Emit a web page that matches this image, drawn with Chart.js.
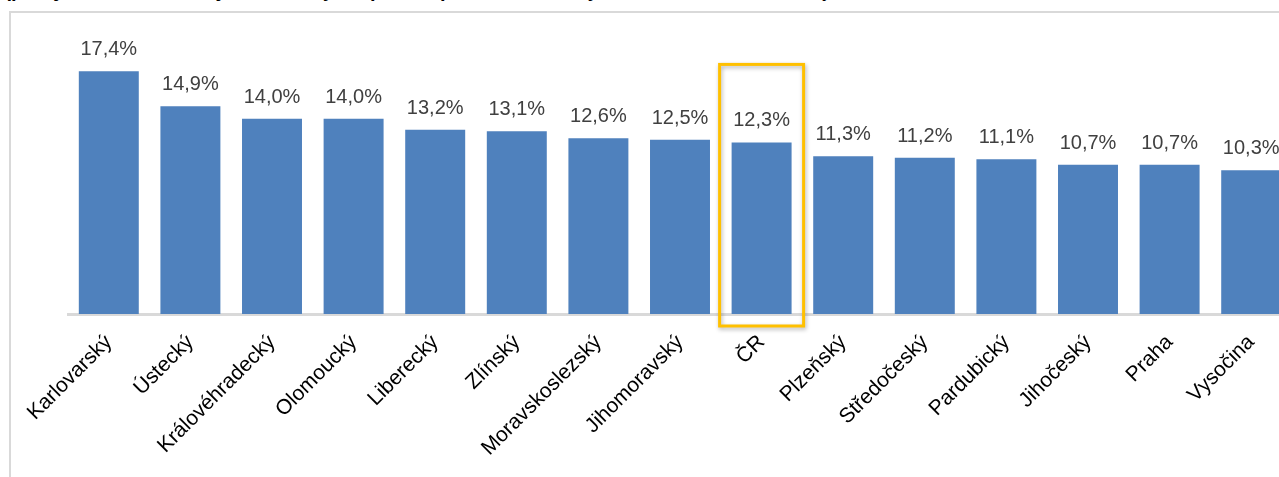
<!DOCTYPE html>
<html lang="cs">
<head>
<meta charset="utf-8">
<title>Kraje</title>
<script src="https://cdn.jsdelivr.net/npm/chart.js@4.4.1/dist/chart.umd.min.js"></script>
<style>
  html, body { margin: 0; padding: 0; background: #fff; overflow: hidden; }
  body { width: 1279px; height: 477px; position: relative; }
  #frame {
    position: absolute; left: 9px; top: 11px; width: 1400px; height: 600px;
    border-left: 2px solid #d9d9d9; border-top: 2px solid #d9d9d9;
  }
  #title {
    position: absolute; left: 6px; top: -20px; white-space: nowrap;
    font: italic bold 20px "Liberation Sans", Arial, sans-serif; line-height: 20px; color: #000;
  }
  #wrap { position: absolute; left: 0; top: 0; width: 1300px; height: 477px; }
</style>
</head>
<body>
<div id="frame"></div>
<div id="title">(počty osob na 100 obyvatel v krajích, podíl v procentech, kraje a ČR celkem, rok 2023)</div>
<div id="wrap"><canvas id="graph"></canvas></div>
<script>
// Kraje seřazené podle hodnoty
const regions = ["Karlovarský", "Ústecký", "Královéhradecký", "Olomoucký", "Liberecký", "Zlínský",
    "Moravskoslezský", "Jihomoravský", "ČR", "Plzeňský", "Středočeský", "Pardubický",
    "Jihočeský", "Praha", "Vysočina"];
const values = [17.4, 14.9, 14.0, 14.0, 13.2, 13.1, 12.6, 12.5, 12.3, 11.3, 11.2, 11.1, 10.7, 10.7, 10.3];
const highlightLabel = "ČR";

const fmt = (v) => v.toFixed(1).replace(".", ",") + "%";

// Popisky hodnot nad sloupci
const valueLabels = {
    id: "valueLabels",
    afterDatasetsDraw(chart) {
        const ctx = chart.ctx;
        const meta = chart.getDatasetMeta(0);
        ctx.save();
        ctx.font = '20px "Liberation Sans", Arial, sans-serif';
        ctx.fillStyle = "#404040";
        ctx.textAlign = "center";
        ctx.textBaseline = "alphabetic";
        meta.data.forEach((bar, i) => {
            ctx.fillText(fmt(values[i]), bar.x, bar.y - 16);
        });
        ctx.restore();
    }
};

// Žlutý rámeček kolem ČR
const highlightBox = {
    id: "highlightBox",
    afterDraw(chart) {
        const i = regions.indexOf(highlightLabel);
        if (i < 0) return;
        const x = chart.scales.x;
        const y = chart.scales.y;
        const cx = x.getPixelForValue(i);
        const half = 42;
        const top = y.getPixelForValue(values[i]) - 78;
        const bottom = y.getPixelForValue(0) + 12;
        const ctx = chart.ctx;
        ctx.save();
        ctx.shadowColor = "rgba(0,0,0,0.3)";
        ctx.shadowBlur = 4;
        ctx.shadowOffsetX = 1;
        ctx.shadowOffsetY = 2;
        ctx.strokeStyle = "#FFC000";
        ctx.lineWidth = 3;
        ctx.strokeRect(cx - half, top, half * 2, bottom - top);
        ctx.restore();
    }
};

const ctx = document.getElementById("graph").getContext("2d");
new Chart(ctx, {
    type: "bar",
    data: {
        labels: regions,
        datasets: [{
            data: values,
            backgroundColor: "#4F81BD",
            borderWidth: 0,
            categoryPercentage: 1,
            barPercentage: 0.735,
        }],
    },
    options: {
        responsive: true,
        maintainAspectRatio: false,
        animation: false,
        layout: { padding: { left: 68, right: 8, top: 35, bottom: 0 } },
        plugins: { legend: { display: false }, tooltip: { enabled: false } },
        scales: {
            x: {
                grid: { display: false, drawTicks: false },
                border: { display: true, color: "#d9d9d9", width: 3 },
                ticks: {
                    color: "#000",
                    font: { family: '"Liberation Sans", Arial, sans-serif', size: 21 },
                    minRotation: 45,
                    maxRotation: 45,
                    padding: 16,
                    autoSkip: false,
                },
                afterFit(scale) { scale.height = 163; },
            },
            y: { display: false, min: 0, max: 20 },
        },
    },
    plugins: [valueLabels, highlightBox],
});
</script>
</body>
</html>
